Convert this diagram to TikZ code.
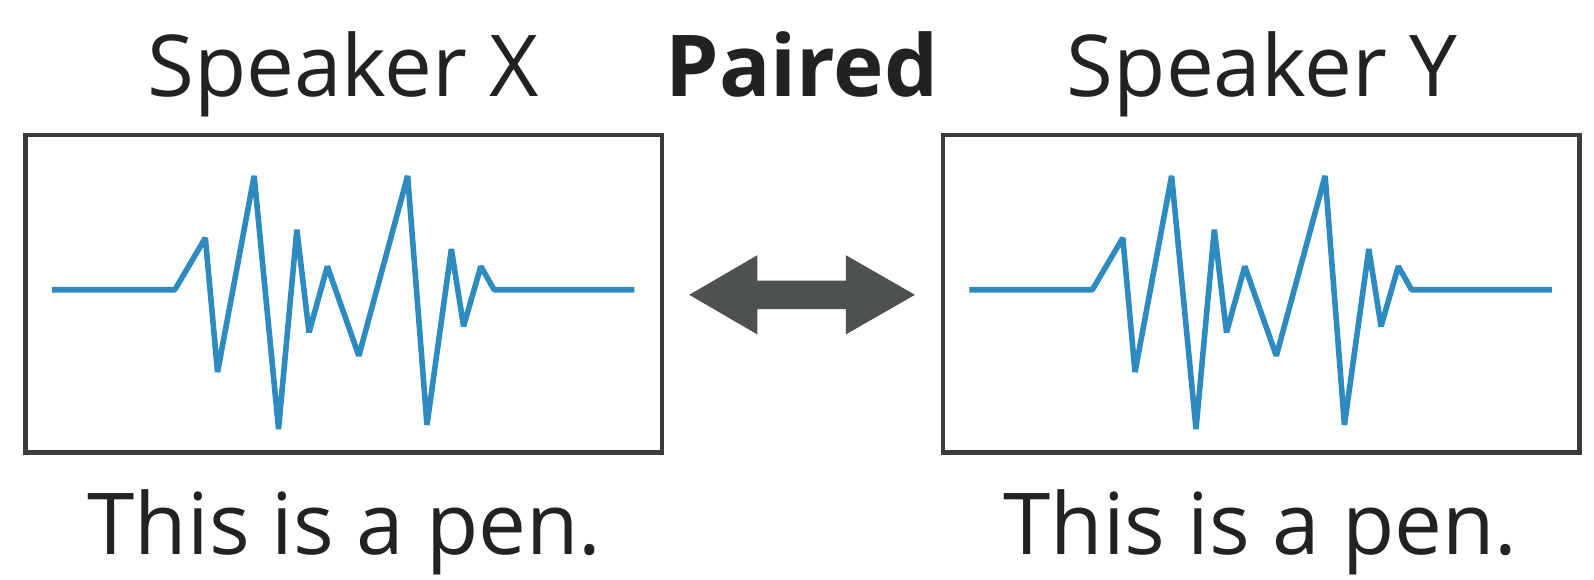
\documentclass[tikz,border=0pt]{standalone}
\usepackage{fontspec}
\setmainfont{Open Sans}
\definecolor{wave}{HTML}{2E8BC0}
\definecolor{frame}{HTML}{3A3B3B}
\definecolor{arrowc}{HTML}{4D5152}
\definecolor{txt}{HTML}{222222}
\begin{document}
\begin{tikzpicture}[x=1pt,y=-1pt,
  panel/.style={draw=frame,line width=4.5pt,minimum width=626pt,minimum height=312pt,inner sep=0pt,outer sep=0pt},
  label/.style={anchor=base,inner sep=0pt,text=txt,font=\fontsize{84}{100}\selectfont},
  sig/.style={draw=wave,line width=5.5pt,line join=bevel}]
\useasboundingbox (0,0) rectangle (1568,570);
\node[panel] (bx) at (338,289) {};
\node[panel] (by) at (1240.5,289) {};
\node[label] (sx) at (337.5,95) {Speaker X};
\node[label] (sy) at (1241.5,95) {Speaker Y};
\node[label,font=\fontsize{84}{100}\selectfont\bfseries] (pa) at (789,95) {Paired};
\node[label] (tx) at (339,545) {This is a pen.};
\node[label] (ty) at (1240,545) {This is a pen.};
\foreach \b in {bx,by}{
\begin{scope}[shift={(\b.north west)},shift={(-25,-133)}]
\draw[sig] (51,285)--(172,285)--(202,234)--(214,366)--(250,173)--(274,422)--(292,226)--(304,327)--(322,262)--(353,350)--(401,173)--(420,418)--(444,245)--(456,321)--(473,262)--(486,285)--(624,285);
\end{scope}}
\coordinate (al) at (678,290);
\coordinate (ar) at (900,290);
\fill[arrowc] (al) -- (745,251) -- (745,276) -- (832,276) -- (832,251) -- (ar) -- (832,329) -- (832,304) -- (745,304) -- (745,329) -- cycle;
\end{tikzpicture}
\end{document}
